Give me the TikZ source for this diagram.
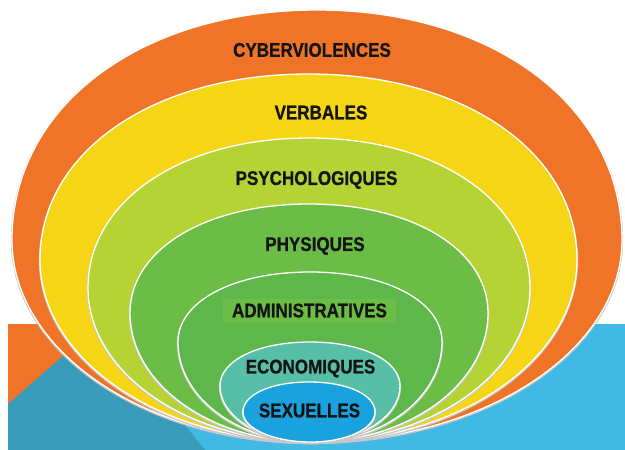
\documentclass[tikz,border=0pt]{standalone}
\usepackage{fontspec}
\newfontfamily\lblfont[FakeStretch=0.86, FakeBold=0.8]{Liberation Sans}
\definecolor{cOrange}{HTML}{F07428}
\definecolor{cYellow}{HTML}{F5D516}
\definecolor{cLime}{HTML}{B5D334}
\definecolor{cGreen}{HTML}{6BBD45}
\definecolor{cGreenB}{HTML}{5DB74A}
\definecolor{cTeal}{HTML}{58BFA7}
\definecolor{cBlue}{HTML}{1AA2DE}
\definecolor{bgBlue}{HTML}{41B9E5}
\definecolor{bgTeal}{HTML}{3A9CBB}
\definecolor{txt}{HTML}{141414}
\tikzset{
  ringstyle/.style={draw=white, line width=1.3pt,
    preaction={draw=black!22, line width=2.2pt, transform canvas={yshift=-1pt}}},
  lbl/.style={font=\lblfont\bfseries\fontsize{19.8}{21}\selectfont, text=txt, inner sep=0pt}
}
\newcommand\myring[5]{%
  \pgfmathsetmacro\rxc{(#1+#2)/2}%
  \filldraw[ringstyle, fill=#5] (311,442)
    .. controls ({311-0.552*(311-#1)},442) and (#1,{#3+0.552*(442-#3)}) .. (#1,#3)
    .. controls (#1,{#3-0.58*(#3-#4)}) and ({\rxc-0.58*(\rxc-#1)},#4) .. (\rxc,#4)
    .. controls ({\rxc+0.58*(#2-\rxc)},#4) and (#2,{#3-0.58*(#3-#4)}) .. (#2,#3)
    .. controls (#2,{#3+0.552*(442-#3)}) and ({311+0.552*(#2-311)},442) .. (311,442) -- cycle;}
\begin{document}
\begin{tikzpicture}[x=1pt,y=-1pt]
\useasboundingbox (0,0) rectangle (625,450);
% background
\fill[bgBlue] (8,324) rectangle (625,450);
\fill[cOrange] (8,324) rectangle (110,450);
\fill[bgTeal] (8,404) -- (102,322) -- (205,450) -- (8,450) -- cycle;
% rings
\myring{12}{622}{240}{10}{cOrange}
\myring{40}{577}{260}{74}{cYellow}
\myring{88}{530}{288}{138}{cLime}
\myring{130}{488}{313}{204}{cGreen}
\myring{178}{442}{342}{272}{cGreenB}
\myring{220}{400}{386}{342}{cTeal}
\myring{243}{375}{412}{382}{cBlue}
% labels
\node[lbl] (cyber) at (312,50) {CYBERVIOLENCES};
\node[lbl] (verb) at (321,112.5) {VERBALES};
\node[lbl] (psy) at (316.5,180) {PSYCHOLOGIQUES};
\node[lbl] (phy) at (315,246) {PHYSIQUES};
\node[lbl, fill=cGreen, minimum width=173pt, minimum height=24pt] (adm) at (309.5,310.5) {ADMINISTRATIVES};
\node[lbl] (eco) at (310.5,368.5) {ECONOMIQUES};
\node[lbl] (sex) at (309.5,410.5) {SEXUELLES};
\end{tikzpicture}
\end{document}
